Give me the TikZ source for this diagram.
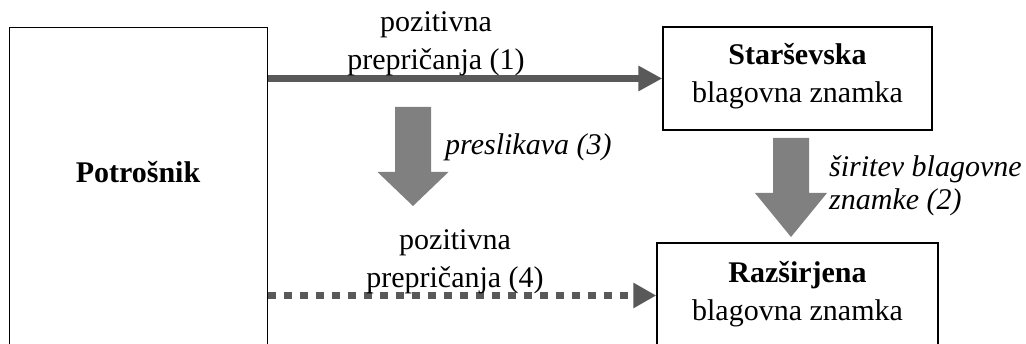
\documentclass[tikz,border=0pt]{standalone}
\usepackage{fontspec}
\setmainfont{Liberation Serif}
\usetikzlibrary{arrows.meta,calc}
\begin{document}
\begin{tikzpicture}[x=1pt,y=1pt,
  every node/.style={font=\fontsize{30}{38}\selectfont},
  frame/.style={draw=black,line width=1.4pt,fill=white,inner sep=0pt},
  txt/.style={align=center,inner sep=0pt,anchor=base},
  note/.style={align=left,inner sep=0pt,anchor=base west,
    font=\fontsize{30}{33.5}\selectfont\itshape},
  flow/.style={draw=black!65,line width=7pt,-{Triangle[length=24pt,width=24pt]}},
  weak/.style={draw=black!65,line width=6.5pt,dash pattern=on 7.5pt off 8.5pt,
    -{Triangle[length=23pt,width=24pt]}},
  block/.style={fill=black!50,draw=none}]
\useasboundingbox (0,0) rectangle (1026,343);
\begin{scope}
\clip (0,0) rectangle (1026,343);
% consumer column, running off the lower edge
\node[frame,anchor=north west,minimum width=258pt,minimum height=345pt] (cons) at (9,316) {};
\node[txt,font=\fontsize{30}{38}\selectfont\bfseries] (consT) at (138,160.3) {Potrošnik};
% parent brand
\node[frame,minimum width=269pt,minimum height=103pt] (par) at (797.5,264.5) {};
\node[txt] (parT) at (797.5,240) {\textbf{Starševska}\\blagovna znamka};
% extension brand, running off the lower edge
\node[frame,minimum width=281pt,minimum height=105pt] (ext) at (797.5,47.5) {};
\node[txt] (extT) at (797.5,23) {\textbf{Razširjena}\\blagovna znamka};
\end{scope}
% beliefs towards the parent brand
\draw[flow] (cons.east |- par.west) -- (par.west);
\node[txt] (l1) at (436,273) {pozitivna\\prepričanja (1)};
% beliefs towards the extension
\draw[weak] (cons.east |- ext.west) -- (ext.west);
\node[txt] (l4) at (455,56) {pozitivna\\prepričanja (4)};
% transfer arrow
\fill[block] (395,236) -- (431,236) -- (431,171) -- (448.5,171)
  -- (413,137) -- (377.5,171) -- (395,171) -- cycle;
\node[note] (l3) at (445,188) {preslikava (3)};
% brand extension arrow
\fill[block] (773,205) -- (809,205) -- (809,150) -- (827,150)
  -- (791,106) -- (755,150) -- (773,150) -- cycle;
\node[note] (l2) at (829,133) {širitev blagovne\\znamke (2)};
\end{tikzpicture}
\end{document}
